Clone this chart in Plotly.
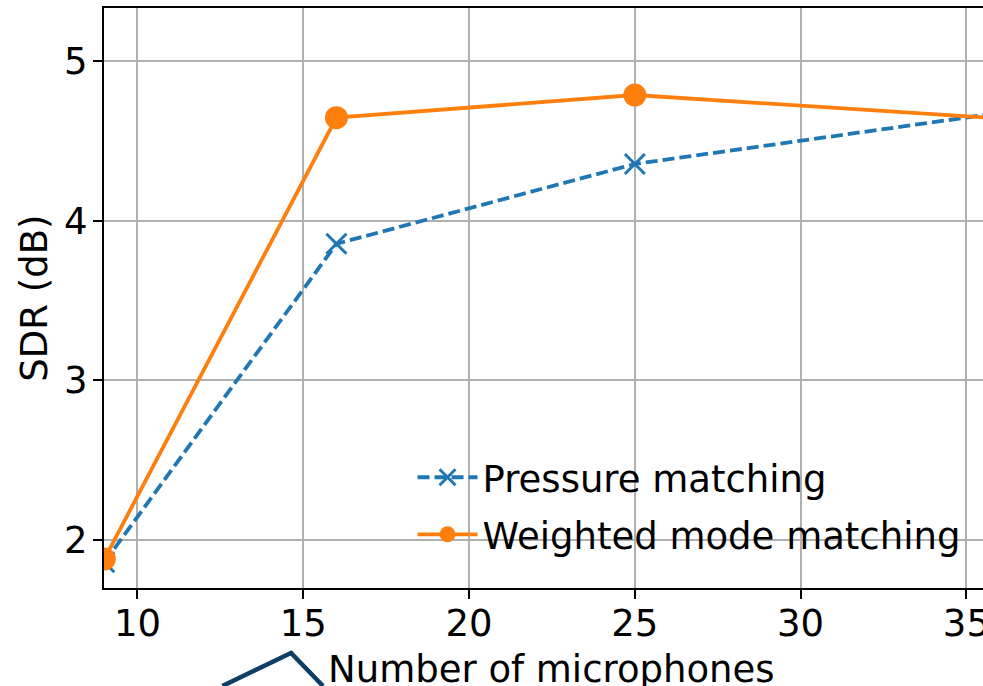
import plotly.graph_objects as go

# Number of microphones evaluated
mics = [9, 16, 25, 36]

# SDR results (dB) for each method
sdr_pressure = [1.86, 3.855, 4.355, 4.675]
sdr_weighted = [1.88, 4.645, 4.787, 4.64]

x_ticks = [10, 15, 20, 25, 30, 35]
y_ticks = [2, 3, 4, 5]

FONT = "DejaVu Sans"
BLUE = "#1f77b4"
ORANGE = "#ff7f0e"

fig = go.Figure()

fig.add_trace(go.Scatter(
    x=mics, y=sdr_pressure, mode="lines+markers",
    name="Pressure matching", legendgroup="pm",
    line=dict(color=BLUE, width=3.8, dash="12px,5px"),
    marker=dict(symbol="x-thin", size=20, color=BLUE,
                line=dict(color=BLUE, width=3)),
))
fig.add_trace(go.Scatter(
    x=mics, y=sdr_weighted, mode="lines+markers",
    name="Weighted mode matching", legendgroup="wmm",
    line=dict(color=ORANGE, width=3.8),
    marker=dict(symbol="circle", size=23, color=ORANGE),
))

axis_common = dict(
    showline=True, linecolor="black", linewidth=2,
    ticks="outside", ticklen=9, tickwidth=2, tickcolor="black",
    showgrid=True, gridcolor="#b0b0b0", gridwidth=2,
    zeroline=False, ticklabeloverflow="allow", automargin=False,
    tickfont=dict(family=FONT, size=37, color="black"),
)

fig.update_xaxes(range=[8.99, 35.5], tickvals=x_ticks, mirror=True,
                 ticklabelstandoff=-7, **axis_common)
fig.update_yaxes(range=[1.699, 5.332], tickvals=y_ticks,
                 ticklabelstandoff=-2, **axis_common)

# Axis titles
fig.add_annotation(text="Number of microphones", x=22.5, xref="x",
                   y=-0.141, yref="paper", showarrow=False,
                   xanchor="center", yanchor="middle",
                   font=dict(family=FONT, size=37, color="black"))
fig.add_annotation(text="SDR (dB)", x=-0.08, xref="paper", y=0.5,
                   yref="paper", showarrow=False, textangle=-90,
                   xanchor="center", yanchor="middle",
                   font=dict(family=FONT, size=37, color="black"))

# Dark chevron stroke below the axis
fig.add_shape(type="path", xref="paper", yref="paper",
              path="M 0.1346 -0.1690 L 0.2128 -0.1121 L 0.2492 -0.1690",
              line=dict(color="#0d3f66", width=4.5))

fig.update_layout(
    width=983, height=686,
    margin=dict(l=104, r=0, t=8, b=98, autoexpand=False),
    plot_bgcolor="white", paper_bgcolor="white",
    font=dict(family=FONT, size=37, color="black"),
    showlegend=True,
    legend=dict(x=0.351, y=0.141, xanchor="left", yanchor="middle",
                bgcolor="rgba(0,0,0,0)", borderwidth=0,
                font=dict(family=FONT, size=37), tracegroupgap=6,
                itemwidth=60),
)

fig.write_html("out.html")
